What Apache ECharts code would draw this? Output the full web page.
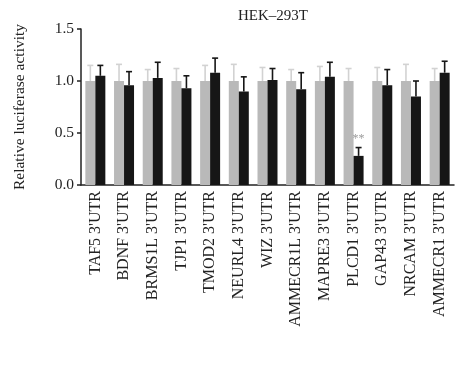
<!DOCTYPE html>
<html><head><meta charset="utf-8">
<script src="https://cdn.jsdelivr.net/npm/echarts@6/dist/echarts.min.js"></script>
<style>html,body{margin:0;padding:0;background:#fff}#c{width:457px;height:383px}</style>
</head><body><div id="c"></div>
<script>
const categories = ["TAF5 3'UTR","BDNF 3'UTR","BRMS1L 3'UTR","TJP1 3'UTR","TMOD2 3'UTR","NEURL4 3'UTR","WIZ 3'UTR","AMMECR1L 3'UTR","MAPRE3 3'UTR","PLCD1 3'UTR","GAP43 3'UTR","NRCAM 3'UTR","AMMECR1 3'UTR"];
const controlValues = [1,1,1,1,1,1,1,1,1,1,1,1,1];
const controlErrors = [0.15,0.16,0.11,0.12,0.15,0.16,0.13,0.11,0.14,0.12,0.13,0.16,0.12];
const mimicValues = [1.05,0.96,1.03,0.93,1.08,0.90,1.01,0.92,1.04,0.28,0.96,0.85,1.08];
const mimicErrors = [0.10,0.13,0.15,0.12,0.14,0.14,0.11,0.16,0.14,0.08,0.15,0.15,0.11];
const yTicks = [0, 0.5, 1.0, 1.5];
const sigIndex = [9];
const sigText = ['**'];

const FONT = '"Liberation Serif", serif';
const BW = 10;
const grayC = '#b9b9b9', blackC = '#161616', grayErr = '#d2d2d2';

function errSeries(vals, errs, shift, color) {
  return {
    type: 'custom', z: 5,
    data: vals.map((v, i) => [i, v, v + errs[i]]),
    renderItem: function (params, api) {
      const c0 = api.coord([api.value(0), api.value(1)]);
      const c1 = api.coord([api.value(0), api.value(2)]);
      const x = c0[0] + shift;
      return { type: 'group', children: [
        { type: 'line', shape: {x1: x, y1: c0[1], x2: x, y2: c1[1]}, style: {stroke: color, lineWidth: 1.6} },
        { type: 'line', shape: {x1: x - 3, y1: c1[1], x2: x + 3, y2: c1[1]}, style: {stroke: color, lineWidth: 1.6} }
      ]};
    }
  };
}

const chart = echarts.init(document.getElementById('c'), null, {renderer: 'canvas'});
chart.setOption({
  animation: false,
  title: { text: 'HEK\u2013293T', left: 268, top: 4, textAlign: 'center',
    textStyle: { fontFamily: FONT, fontSize: 15, fontWeight: 'normal', color: '#222' } },
  grid: { left: 81, right: 3, top: 29, bottom: 198, containLabel: false },
  xAxis: {
    type: 'category', data: categories,
    axisLine: { lineStyle: { color: '#222', width: 1.5 } },
    axisTick: { show: false },
    axisLabel: { rotate: 90, interval: 0, margin: 6, fontFamily: FONT, fontSize: 16, color: '#222' }
  },
  yAxis: {
    type: 'value', min: 0, max: 1.5, interval: 0.5,
    name: 'Relative luciferase activity', nameLocation: 'middle', nameGap: 53, nameRotate: 90,
    nameTextStyle: { fontFamily: FONT, fontSize: 15.5, color: '#222' },
    axisLine: { show: true, lineStyle: { color: '#222', width: 1.5 } },
    axisTick: { show: true, length: 4, lineStyle: { color: '#222', width: 1.5 } },
    splitLine: { show: false },
    axisLabel: { margin: 7, fontFamily: FONT, fontSize: 15.5, color: '#222',
      formatter: v => yTicks.indexOf(v) >= 0 ? v.toFixed(1) : '' }
  },
  series: [
    { type: 'bar', data: controlValues, barWidth: BW, barGap: '0%', itemStyle: { color: grayC } },
    { type: 'bar', data: mimicValues, barWidth: BW, barGap: '0%', itemStyle: { color: blackC } },
    errSeries(controlValues, controlErrors, -BW / 2, grayErr),
    errSeries(mimicValues, mimicErrors, BW / 2, blackC),
    { type: 'custom', z: 6,
      data: sigIndex.map((idx, k) => [idx, mimicValues[idx] + mimicErrors[idx], sigText[k]]),
      renderItem: function (params, api) {
        const c = api.coord([api.value(0), api.value(1)]);
        return { type: 'text', x: c[0] + BW / 2, y: c[1] - 3,
          style: { text: sigText[params.dataIndex], textAlign: 'center', textVerticalAlign: 'bottom',
            fill: '#9a9a9a', font: '12px "Liberation Serif", serif' } };
      } }
  ]
});
</script></body></html>
